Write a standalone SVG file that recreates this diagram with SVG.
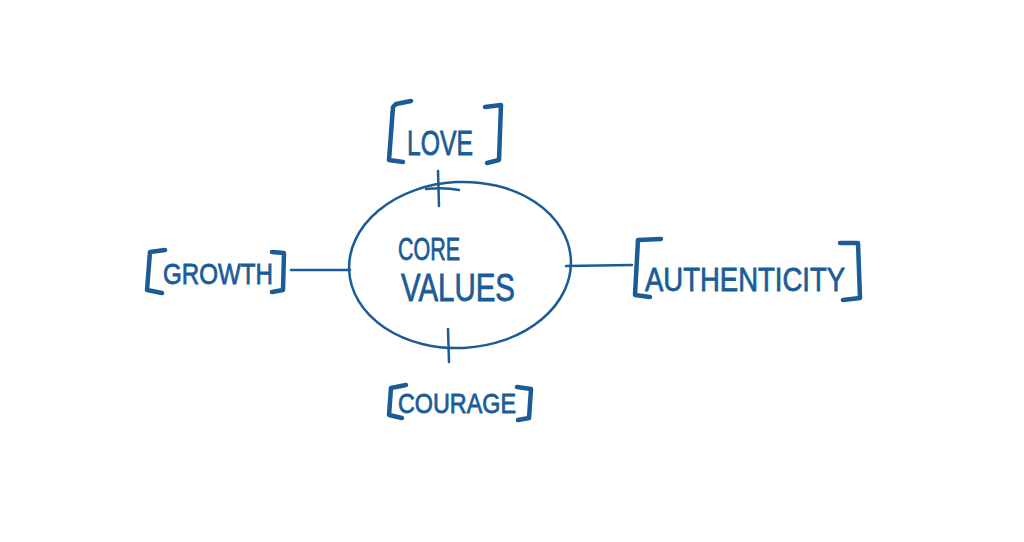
<svg xmlns="http://www.w3.org/2000/svg" width="1024" height="542" viewBox="0 0 1024 542">
<style>
.ln{fill:none;stroke:#1b5c97;stroke-linecap:round;stroke-linejoin:round}
.br{stroke-width:4.5}
.t{fill:#1b5c97;stroke:#1b5c97;stroke-width:0.8;font-family:"Liberation Sans",Arial,sans-serif;font-weight:normal}
</style>
<rect width="1024" height="542" fill="#ffffff"/>
<g id="connectors" class="ln" stroke-width="2.5">
<path d="M438 171 L439 206"/>
<path d="M426 189 Q445 187 459 190"/>
<path d="M448 329 L449 362"/>
<path d="M291 270 L350 270"/>
<path d="M566 266 L632 265"/>
</g>
<g id="core">
<ellipse class="ln" stroke-width="2.5" cx="460" cy="265" rx="111" ry="83" transform="rotate(-3 460 265)"/>
<text class="t" x="398" y="260" font-size="32" textLength="62" lengthAdjust="spacingAndGlyphs">CORE</text>
<text class="t" x="401" y="301" font-size="38" textLength="114" lengthAdjust="spacingAndGlyphs">VALUES</text>
</g>
<g id="love">
<path class="ln br" d="M411 101 L396 104 L393 107 L389 160 L403 162"/>
<path class="ln br" d="M485 107 L501 105 L499 160 L487 163"/>
<text class="t" x="407" y="155" font-size="35" textLength="66" lengthAdjust="spacingAndGlyphs">LOVE</text>
</g>
<g id="growth">
<path class="ln br" d="M165 250 L150 252 L147 290 L162 293"/>
<path class="ln br" d="M272 252 L284 253 L283 290 L272 292"/>
<text class="t" x="163" y="284" font-size="30" textLength="110" lengthAdjust="spacingAndGlyphs">GROWTH</text>
</g>
<g id="authenticity">
<path class="ln br" d="M661 239 L638 240 L635 295 L650 297"/>
<path class="ln br" d="M840 243 L858 243 L860 298 L843 300"/>
<text class="t" x="645" y="291" font-size="34" textLength="200" lengthAdjust="spacingAndGlyphs">AUTHENTICITY</text>
</g>
<g id="courage">
<path class="ln br" d="M406 385 L391 388 L389 415 L402 418"/>
<path class="ln br" d="M517 387 L531 389 L529 418 L518 420"/>
<text class="t" x="398" y="413" font-size="28" textLength="118" lengthAdjust="spacingAndGlyphs">COURAGE</text>
</g>
</svg>
